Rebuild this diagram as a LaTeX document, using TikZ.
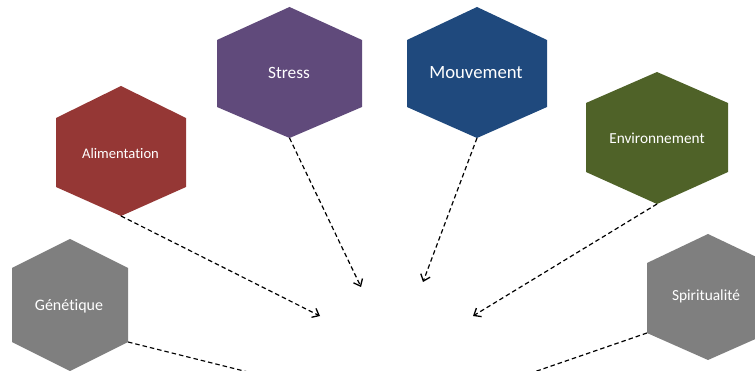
\documentclass[tikz,border=0pt]{standalone}
\usepackage{fontspec}
\setmainfont{Carlito}[Ligatures={NoCommon,NoRequired,NoContextual}]
\usetikzlibrary{arrows.meta}
\definecolor{cgray}{HTML}{7F7F7F}
\definecolor{cred}{HTML}{953735}
\definecolor{cviolet}{HTML}{604A7B}
\definecolor{cblue}{HTML}{1F497D}
\definecolor{cgreen}{HTML}{4F6228}
% #1 name, #2 cx, #3 top, #4 upper side, #5 lower side, #6 bottom, #7 half width, #8 colour
\newcommand{\hexshape}[8]{%
  \coordinate (#1-t) at (#2,#3);
  \coordinate (#1-ur) at ({#2+#7},#4);
  \coordinate (#1-lr) at ({#2+#7},#5);
  \coordinate (#1-b) at (#2,#6);
  \coordinate (#1-ll) at ({#2-#7},#5);
  \coordinate (#1-ul) at ({#2-#7},#4);
  \fill[#8] (#1-t) -- (#1-ur) -- (#1-lr) -- (#1-b) -- (#1-ll) -- (#1-ul) -- cycle;
}
\tikzset{
  lbl/.style={text=white, inner sep=0pt, font=\fontsize{#1}{#1}\selectfont},
  link/.style={draw=black, line width=1.2pt, dash pattern=on 4.5pt off 3pt},
  arr/.style={link, -{Straight Barb[length=6pt,width=10pt,line width=1.3pt]}}
}
\begin{document}
\begin{tikzpicture}[x=1pt,y=-1pt]
\useasboundingbox (0,0) rectangle (755,371);
\clip (0,0) rectangle (755,371);
\hexshape{gen}{70}{239}{268}{342}{371}{58}{cgray}
\hexshape{alim}{121}{86}{118}{187}{216}{65}{cred}
\hexshape{stress}{289.5}{7}{40}{107}{138}{72.5}{cviolet}
\hexshape{mouv}{477}{7}{40}{107}{138}{70}{cblue}
\hexshape{env}{657}{72}{103}{172}{204}{71}{cgreen}
\hexshape{spir}{708}{234}{263}{333}{360}{61}{cgray}

\node[lbl=16] (gen) at (69,306) {Génétique};
\node[lbl=14.6] (alim) at (120.5,153) {Alimentation};
\node[lbl=17.3] (stress) at (289,73) {Stress};
\node[lbl=18.7] (mouv) at (476,73) {Mouvement};
\node[lbl=15.3] (env) at (657,138) {Environnement};
\node[lbl=15.4] (spir) at (706,296) {Spiritualité};

\coordinate (tAlim) at (320,316);
\coordinate (tStress) at (361,287);
\coordinate (tMouv) at (423,282);
\coordinate (tEnv) at (473,316);
\coordinate (eGen) at (328,392);
\coordinate (eSpir) at (447,402);

\draw[arr] (alim-b) -- (tAlim);
\draw[arr] (stress-b) -- (tStress);
\draw[arr] (mouv-b) -- (tMouv);
\draw[arr] (env-b) -- (tEnv);
\draw[link] (gen-lr) -- (eGen);
\draw[link] (spir-ll) -- (eSpir);
\end{tikzpicture}
\end{document}
